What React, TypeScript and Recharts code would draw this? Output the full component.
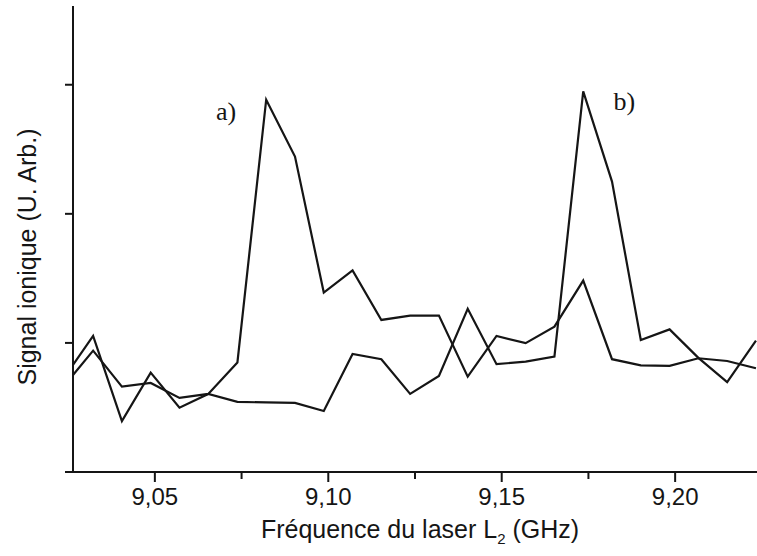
import React from 'react';
import { LineChart, Line, XAxis, YAxis, ReferenceDot, Label } from 'recharts';

// Frequencies (GHz) of the samples, first one is the value at the left axis edge
const freqs = [
  9.0264, 9.0322, 9.0405, 9.0488, 9.0571, 9.0654, 9.0738, 9.0821, 9.0904, 9.0987,
  9.107, 9.1153, 9.1236, 9.1319, 9.1402, 9.1485, 9.1569, 9.1652, 9.1735, 9.1818,
  9.1901, 9.1984, 9.2067, 9.215, 9.2233,
];

// Curve with peak a)
const seriesA = [
  0.752, 0.94, 0.661, 0.69, 0.574, 0.605, 0.849, 2.884, 2.444, 1.39,
  1.562, 1.178, 1.212, 1.212, 0.739, 1.054, 0.998, 1.126, 1.483, 0.874,
  0.826, 0.822, 0.881, 0.86, 0.804,
];

// Curve with peak b)
const seriesB = [
  0.829, 1.054, 0.395, 0.77, 0.498, 0.605, 0.543, 0.539, 0.535, 0.473,
  0.915, 0.874, 0.605, 0.744, 1.264, 0.835, 0.855, 0.894, 2.948, 2.25,
  1.023, 1.105, 0.884, 0.696, 1.018,
];

const xTicks = [9.05, 9.075, 9.1, 9.125, 9.15, 9.175, 9.2];
const xMajor = [9.05, 9.1, 9.15, 9.2];
const yTicks = [0, 1, 2, 3];

const annotations = [
  { text: 'a)', f: 9.0676, v: 2.729 },
  { text: 'b)', f: 9.1822, v: 2.806 },
];

const data = freqs.map((f, i) => ({ f, a: seriesA[i], b: seriesB[i] }));

const INK = '#151515';
const SANS = '"Liberation Sans", Arial, Helvetica, sans-serif';
const SERIF = '"Liberation Serif", "Times New Roman", serif';

const fmt = (v: number) => v.toFixed(2).replace('.', ',');

const XTick = (props: any) => {
  const { x, y, payload } = props;
  const major = xMajor.some((m) => Math.abs(m - payload.value) < 1e-6);
  return (
    <g>
      <line x1={x} x2={x} y1={y} y2={y + (major ? 10 : 7)} stroke={INK} strokeWidth={2} />
      {major && (
        <text x={x} y={y + 33} textAnchor="middle" fontFamily={SANS} fontSize={24} fill={INK}>
          {fmt(payload.value)}
        </text>
      )}
    </g>
  );
};

const AnnLabel = (text: string) => (props: any) => {
  const vb = props.viewBox || {};
  return (
    <text x={vb.x} y={vb.y} fontFamily={SERIF} fontSize={26} fill={INK}>
      {text}
    </text>
  );
};

export default function App() {
  return (
    <div style={{ position: 'absolute', left: 0, top: 0, background: '#fff' }}>
      <LineChart
        width={757}
        height={556}
        data={data}
        margin={{ top: 6, right: 0, bottom: 0, left: 0 }}
      >
        <XAxis
          dataKey="f"
          type="number"
          domain={[9.0264, 9.2236]}
          allowDataOverflow
          ticks={xTicks}
          interval={0}
          tick={<XTick />}
          tickLine={false}
          tickSize={0}
          tickMargin={0}
          axisLine={{ stroke: INK, strokeWidth: 2 }}
          height={84}
        >
          <Label
            content={() => (
              <text x={420} y={538} textAnchor="middle" fontFamily={SANS} fontSize={25} fill={INK}>
                Fréquence du laser L
                <tspan fontSize={15} dy={6}>2</tspan>
                <tspan dy={-6}> (GHz)</tspan>
              </text>
            )}
          />
        </XAxis>
        <YAxis
          type="number"
          domain={[0, 3.61]}
          allowDataOverflow
          ticks={yTicks}
          interval={0}
          tickFormatter={() => ''}
          tickSize={8}
          tickLine={{ stroke: INK, strokeWidth: 2 }}
          axisLine={{ stroke: INK, strokeWidth: 2 }}
          width={73}
        >
          <Label
            content={() => (
              <text
                x={36}
                y={257}
                transform="rotate(-90 36 257)"
                textAnchor="middle"
                fontFamily={SANS}
                fontSize={25}
                fill={INK}
              >
                Signal ionique (U. Arb.)
              </text>
            )}
          />
        </YAxis>
        <Line
          type="linear"
          dataKey="a"
          stroke={INK}
          strokeWidth={2.2}
          dot={false}
          activeDot={false}
          isAnimationActive={false}
        />
        <Line
          type="linear"
          dataKey="b"
          stroke={INK}
          strokeWidth={2.2}
          dot={false}
          activeDot={false}
          isAnimationActive={false}
        />
        {annotations.map((a) => (
          <ReferenceDot
            key={a.text}
            x={a.f}
            y={a.v}
            r={0}
            fill="none"
            stroke="none"
            label={AnnLabel(a.text)}
          />
        ))}
      </LineChart>
    </div>
  );
}
